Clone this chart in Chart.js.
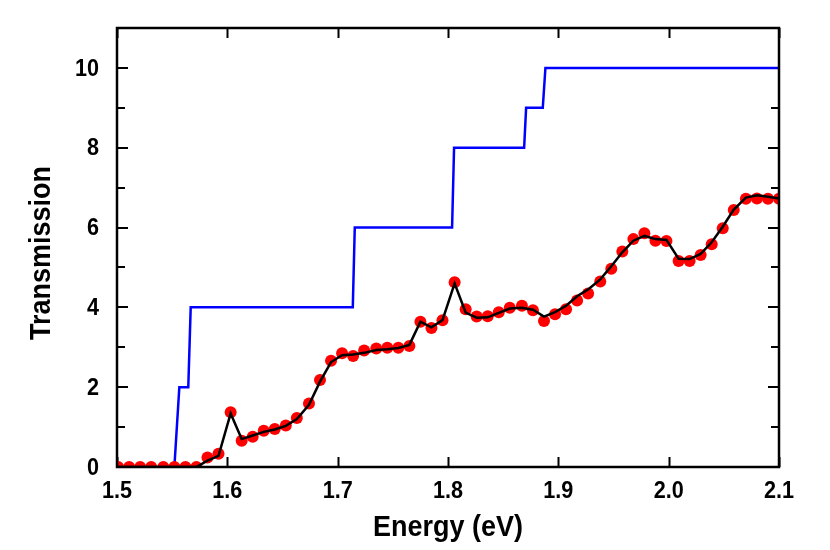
<!DOCTYPE html>
<html>
<head>
<meta charset="utf-8">
<script src="https://cdn.jsdelivr.net/npm/chart.js@4/dist/chart.umd.min.js"></script>
<style>
  html, body { margin: 0; padding: 0; background: #fff; }
  #c { display: block; }
</style>
</head>
<body>
<canvas id="c" width="830" height="550"></canvas>
<script>
// ---- data ----
const energy = [
  1.501, 1.511, 1.521, 1.531, 1.542, 1.552, 1.562, 1.572, 1.582, 1.592,
  1.603, 1.613, 1.623, 1.633, 1.643, 1.653, 1.663, 1.674, 1.684, 1.694,
  1.704, 1.714, 1.724, 1.735, 1.745, 1.755, 1.765, 1.775, 1.785, 1.795,
  1.806, 1.816, 1.826, 1.836, 1.846, 1.856, 1.867, 1.877, 1.887, 1.897,
  1.907, 1.917, 1.927, 1.938, 1.948, 1.958, 1.968, 1.978, 1.988, 1.998,
  2.009, 2.019, 2.029, 2.039, 2.049, 2.059, 2.070, 2.080, 2.090, 2.100
];
const measured = [
  0, 0, 0, 0, 0, 0, 0, 0, 0.24, 0.33,
  1.37, 0.66, 0.76, 0.91, 0.95, 1.04, 1.23, 1.59, 2.18, 2.66,
  2.85, 2.78, 2.92, 2.97, 2.99, 2.99, 3.03, 3.64, 3.48, 3.68,
  4.63, 3.95, 3.77, 3.78, 3.88, 3.99, 4.04, 3.93, 3.66, 3.83,
  3.95, 4.17, 4.35, 4.65, 4.97, 5.40, 5.71, 5.86, 5.67, 5.66,
  5.16, 5.16, 5.31, 5.58, 5.98, 6.44, 6.72, 6.73, 6.72, 6.72
];
const fitted = [
  0, 0, 0, 0, 0, 0, 0, 0, 0.16, 0.28,
  1.34, 0.70, 0.79, 0.88, 0.94, 1.03, 1.20, 1.56, 2.14, 2.63,
  2.80, 2.82, 2.86, 2.93, 2.95, 2.98, 3.06, 3.64, 3.50, 3.68,
  4.60, 3.87, 3.74, 3.75, 3.86, 3.97, 3.99, 3.94, 3.77, 3.88,
  4.04, 4.28, 4.45, 4.70, 5.03, 5.38, 5.67, 5.79, 5.71, 5.69,
  5.22, 5.21, 5.34, 5.63, 6.02, 6.45, 6.75, 6.81, 6.77, 6.73
];
const stepEnergy = [1.500, 1.552, 1.5565, 1.5646, 1.5668, 1.7137, 1.7155, 1.8037, 1.8055, 1.8690, 1.8708, 1.8859, 1.8883, 2.100];
const stepValue  = [0,     0,     2,      2,      4,      4,      6,      6,      8,      8,      9,      9,      10,     10];

const xTicks = [1.5, 1.6, 1.7, 1.8, 1.9, 2.0, 2.1];
const xTickLabels = ['1.5', '1.6', '1.7', '1.8', '1.9', '2.0', '2.1'];
const yTicks = [0, 2, 4, 6, 8, 10];
const yTickLabels = ['0', '2', '4', '6', '8', '10'];
const yMinorTicks = [1, 3, 5, 7, 9];
const xTitle = 'Energy (eV)';
const yTitle = 'Transmission';

// ---- build chart ----
const pts = (xs, ys) => xs.map((x, i) => ({ x: x, y: ys[i] }));
const FONT = '"Liberation Sans", Arial, sans-serif';

function condensedText(ctx, text, x, y, sx) {
  ctx.save();
  ctx.translate(x, y);
  ctx.scale(sx, 1);
  ctx.fillText(text, 0, 0);
  ctx.restore();
}

const frameAndTicks = {
  id: 'frameAndTicks',
  beforeDatasetsDraw(chart) {
    const ctx = chart.ctx;
    const a = chart.chartArea;
    const xs = chart.scales.x, ys = chart.scales.y;
    ctx.save();
    ctx.strokeStyle = '#000';
    ctx.lineWidth = 2;
    ctx.lineCap = 'butt';
    ctx.beginPath();
    xTicks.forEach(v => {
      const px = Math.round(xs.getPixelForValue(v)) + 0.5;
      ctx.moveTo(px, a.bottom); ctx.lineTo(px, a.bottom - 10);
      ctx.moveTo(px, a.top); ctx.lineTo(px, a.top + 10);
    });
    yTicks.forEach(v => {
      const py = Math.round(ys.getPixelForValue(v));
      ctx.moveTo(a.left, py); ctx.lineTo(a.left + 11, py);
      ctx.moveTo(a.right, py); ctx.lineTo(a.right - 11, py);
    });
    yMinorTicks.forEach(v => {
      const py = Math.round(ys.getPixelForValue(v));
      ctx.moveTo(a.left, py); ctx.lineTo(a.left + 8, py);
      ctx.moveTo(a.right, py); ctx.lineTo(a.right - 8, py);
    });
    ctx.stroke();
    ctx.restore();
  },
  afterDraw(chart) {
    const ctx = chart.ctx;
    const a = chart.chartArea;
    const xs = chart.scales.x, ys = chart.scales.y;
    ctx.save();
    ctx.strokeStyle = '#000';
    ctx.lineWidth = 2.5;
    ctx.strokeRect(a.left, a.top, a.right - a.left, a.bottom - a.top);

    ctx.fillStyle = '#000';
    // tick labels
    ctx.font = 'bold 24px ' + FONT;
    ctx.textBaseline = 'middle';
    ctx.textAlign = 'center';
    xTicks.forEach((v, i) => {
      condensedText(ctx, xTickLabels[i], xs.getPixelForValue(v), 491, 0.9);
    });
    ctx.textAlign = 'right';
    yTicks.forEach((v, i) => {
      condensedText(ctx, yTickLabels[i], 99, ys.getPixelForValue(v) + 1, 0.9);
    });

    // axis titles
    ctx.font = 'bold 29px ' + FONT;
    ctx.textAlign = 'center';
    condensedText(ctx, xTitle, (a.left + a.right) / 2, 528, 0.93);
    ctx.translate(42, 253);
    ctx.rotate(-Math.PI / 2);
    condensedText(ctx, yTitle, 0, 0, 0.93);
    ctx.restore();
  }
};

new Chart(document.getElementById('c'), {
  type: 'scatter',
  data: {
    datasets: [
      {
        label: 'fit',
        data: pts(energy, fitted),
        showLine: true,
        borderColor: '#000000',
        borderWidth: 2.5,
        pointRadius: 0,
        fill: false,
        order: 0
      },
      {
        label: 'measured',
        data: pts(energy, measured),
        showLine: false,
        backgroundColor: '#ff0000',
        borderWidth: 0,
        pointRadius: 6,
        order: 1
      },
      {
        label: 'steps',
        data: pts(stepEnergy, stepValue),
        showLine: true,
        borderColor: '#0000ff',
        borderWidth: 2.5,
        pointRadius: 0,
        fill: false,
        order: 2
      }
    ]
  },
  options: {
    responsive: false,
    animation: false,
    devicePixelRatio: 1,
    layout: { padding: { top: 28, right: 51, left: 0, bottom: 0 } },
    plugins: { legend: { display: false }, tooltip: { enabled: false } },
    scales: {
      x: {
        type: 'linear',
        min: 1.5, max: 2.1,
        afterBuildTicks: s => { s.ticks = xTicks.map(v => ({ value: v })); },
        afterFit: s => { s.height = 83; },
        grid: { display: false, drawTicks: false },
        border: { display: false },
        ticks: { display: false }
      },
      y: {
        type: 'linear',
        min: 0, max: 11,
        afterBuildTicks: s => { s.ticks = yTicks.map(v => ({ value: v })); },
        afterFit: s => { s.width = 117; },
        grid: { display: false, drawTicks: false },
        border: { display: false },
        ticks: { display: false }
      }
    }
  },
  plugins: [frameAndTicks]
});
</script>
</body>
</html>
